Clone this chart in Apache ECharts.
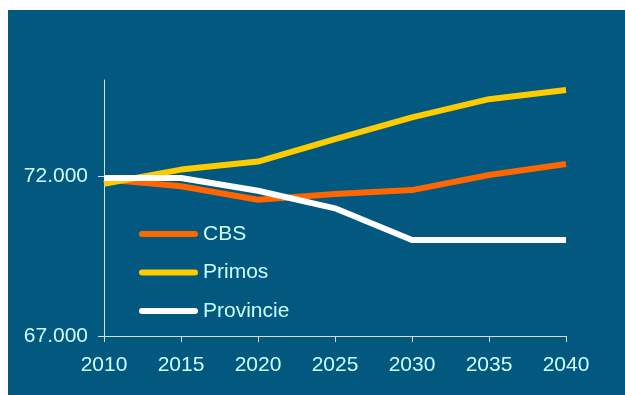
<!DOCTYPE html>
<html>
<head>
<meta charset="utf-8">
<script src="https://cdn.jsdelivr.net/npm/echarts@6/dist/echarts.min.js"></script>
<style>
html,body{margin:0;padding:0;background:#ffffff;width:625px;height:395px;overflow:hidden;}
#chart{position:absolute;left:8px;top:10px;width:617px;height:385px;}
</style>
</head>
<body>
<div id="chart"></div>
<script>
var years = ['2010', '2015', '2020', '2025', '2030', '2035', '2040'];
var cbs = [71900, 71680, 71260, 71440, 71560, 72030, 72375];
var primos = [71760, 72200, 72450, 73150, 73830, 74400, 74690];
var provincie = [71940, 71940, 71540, 70990, 70000, 70000, 70000];
var yTicks = [67000, 72000];

var chart = echarts.init(document.getElementById('chart'));
var labelColor = '#CCFFFF';
var axisColor = '#D5DDE5';
var fontFam = '"Liberation Sans", Arial, sans-serif';
function fmt(v) { return String(v).replace(/\B(?=(\d{3})+(?!\d))/g, '.'); }
var legendIcon = 'path://M3 0H56A3 3 0 0 1 56 6H3A3 3 0 0 1 3 0Z';

chart.setOption({
  backgroundColor: '#02587F',
  animation: false,
  grid: { left: 96, right: 59, top: 70, bottom: 59 },
  legend: {
    orient: 'vertical',
    left: 131,
    top: 213.5,
    padding: 0,
    itemWidth: 59,
    itemHeight: 6,
    itemGap: 17.5,
    textStyle: { color: labelColor, fontSize: 21, fontFamily: fontFam, lineHeight: 21 },
    data: [
      { name: 'CBS', icon: legendIcon, itemStyle: { color: '#FF6600' } },
      { name: 'Primos', icon: legendIcon, itemStyle: { color: '#FFCC00' } },
      { name: 'Provincie', icon: legendIcon, itemStyle: { color: '#FFFFFF' } }
    ]
  },
  xAxis: {
    type: 'category',
    data: years,
    boundaryGap: false,
    axisLine: { lineStyle: { color: axisColor, width: 1 } },
    axisTick: { show: true, length: 6, lineStyle: { color: axisColor } },
    axisLabel: { color: labelColor, fontSize: 21, fontFamily: fontFam, margin: 19 },
    splitLine: { show: false }
  },
  yAxis: {
    type: 'value',
    min: 67000,
    max: 75000,
    axisLine: { show: true, lineStyle: { color: axisColor, width: 1 } },
    axisTick: { show: true, length: 6, lineStyle: { color: axisColor }, customValues: yTicks },
    axisLabel: { color: labelColor, fontSize: 21, fontFamily: fontFam, margin: 16, formatter: fmt, customValues: yTicks },
    splitLine: { show: false }
  },
  series: [
    { name: 'CBS', type: 'line', data: cbs, symbol: 'none', lineStyle: { color: '#FF6600', width: 6 }, itemStyle: { color: '#FF6600' } },
    { name: 'Primos', type: 'line', data: primos, symbol: 'none', lineStyle: { color: '#FFCC00', width: 6 }, itemStyle: { color: '#FFCC00' } },
    { name: 'Provincie', type: 'line', data: provincie, symbol: 'none', lineStyle: { color: '#FFFFFF', width: 6 }, itemStyle: { color: '#FFFFFF' } }
  ]
});
</script>
</body>
</html>
